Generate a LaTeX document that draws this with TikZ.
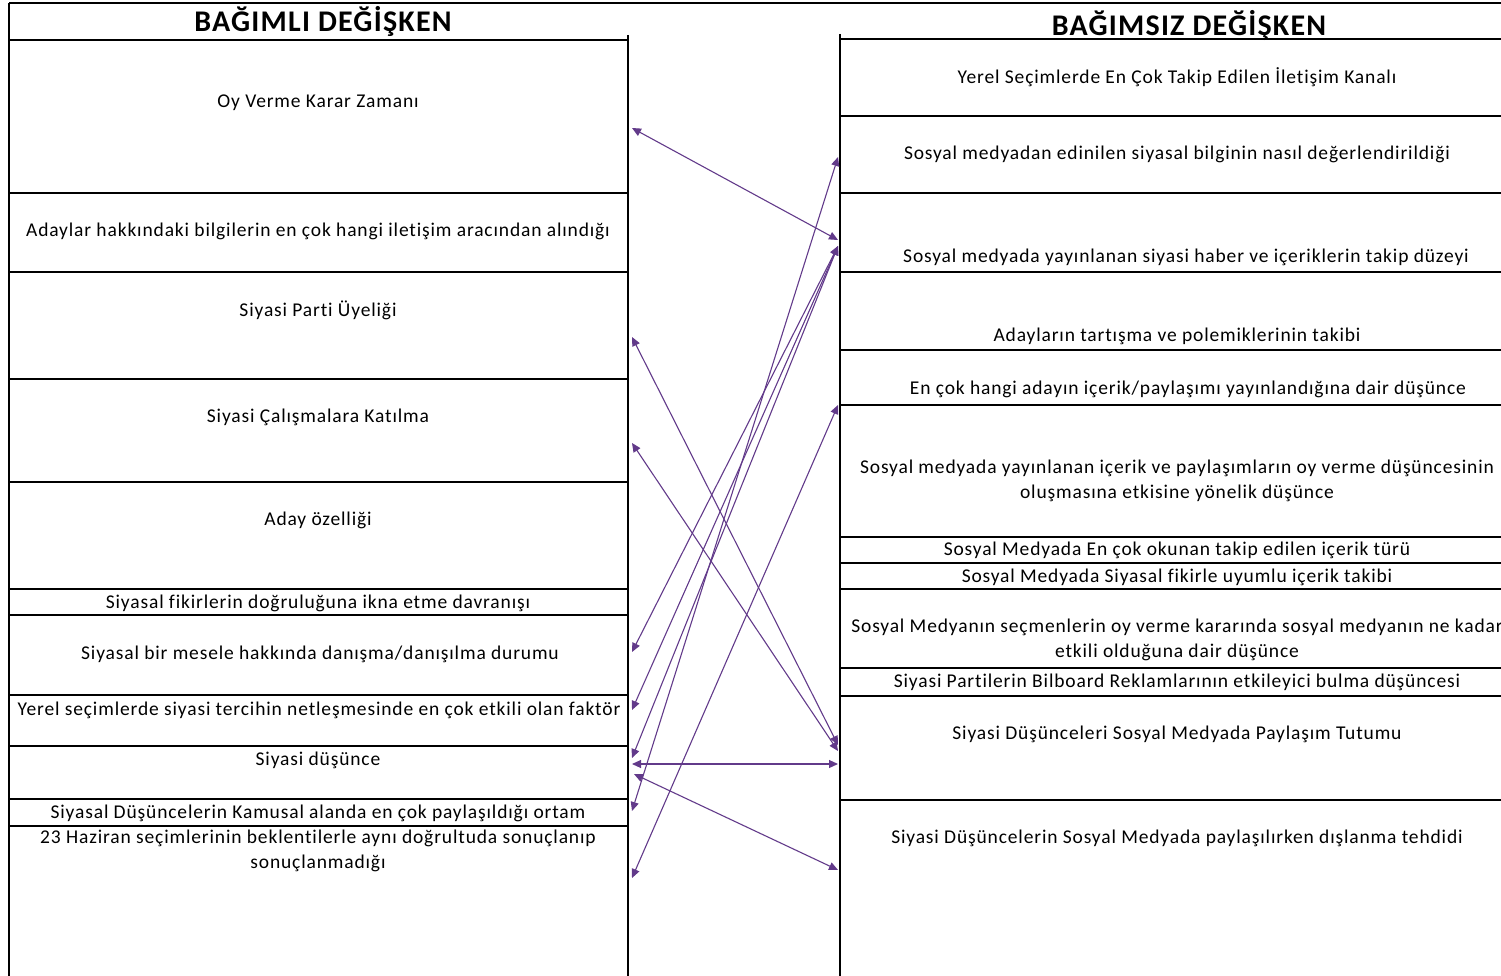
\documentclass[tikz,border=0pt]{standalone}
\usepackage{fontspec}
\setmainfont{Carlito}
\newfontfamily\cellfont[LetterSpace=4.4, Ligatures=NoCommon]{Carlito}
\newfontfamily\headfont[LetterSpace=4.0, Ligatures=NoCommon]{Carlito}
\usetikzlibrary{arrows.meta}
\definecolor{linkpurple}{RGB}{98,58,138}
\tikzset{
    cellline/.style={draw=black, line width=1.3pt},
    celltext/.style={font=\cellfont\fontsize{19.5}{24.5}\selectfont, align=center, inner sep=0pt},
    headtext/.style={font=\headfont\fontsize{30}{32}\selectfont\bfseries, inner sep=0pt},
    link/.style={{Triangle[length=9pt,width=8pt]}-{Triangle[length=9pt,width=8pt]}, line width=1.1pt, draw=linkpurple},
}

\begin{document}
\begin{tikzpicture}[x=1pt, y=-1pt]
    \useasboundingbox (0,0) rectangle (1501,976);

    % Headers
    \draw[cellline, line width=2.2pt] (9,3) -- (1501,3);
    \node[headtext] (bagimli) at (323,21) {BAĞIMLI DEĞİŞKEN};
    \node[headtext] (bagimsiz) at (1189,25) {BAĞIMSIZ DEĞİŞKEN};

    % Left table (dependent variables)
    \draw[cellline] (9,3) -- (9,976);
    \draw[cellline] (628,35) -- (628,976);
    \foreach \y in {40,193,272,379,482,589,615,695,746,799,826}
        \draw[cellline] (9,\y) -- (628,\y);

    % Right table (independent variables)
    \draw[cellline] (840,34) -- (840,976);
    \foreach \y in {39,116,193,272,350,405,537,563,589,668,696,800}
        \draw[cellline] (840,\y) -- (1501,\y);

    % Left cell texts
    \node[celltext] (oyzaman) at (318,103) {Oy Verme Karar Zamanı};
    \node[celltext] (adaybilgi) at (318,231) {Adaylar hakkındaki bilgilerin en çok hangi iletişim aracından alındığı};
    \node[celltext] (partiuye) at (318,310) {Siyasi Parti Üyeliği};
    \node[celltext] (calisma) at (318,417) {Siyasi Çalışmalara Katılma};
    \node[celltext] (adayozel) at (318,520) {Aday özelliği};
    \node[celltext] (ikna) at (318,603) {Siyasal fikirlerin doğruluğuna ikna etme davranışı};
    \node[celltext] (danisma) at (320,654) {Siyasal bir mesele hakkında danışma/danışılma durumu};
    \node[celltext] (faktor) at (319,710) {Yerel seçimlerde siyasi tercihin netleşmesinde en çok etkili olan faktör};
    \node[celltext] (dusunce) at (318,760) {Siyasi düşünce};
    \node[celltext] (ortam) at (318,813) {Siyasal Düşüncelerin Kamusal alanda en çok paylaşıldığı ortam};
    \node[celltext] (haziran) at (318,851) {23 Haziran seçimlerinin beklentilerle aynı doğrultuda sonuçlanıp\\sonuçlanmadığı};

    % Right cell texts
    \node[celltext] (kanal) at (1177,77) {Yerel Seçimlerde En Çok Takip Edilen İletişim Kanalı};
    \node[celltext] (degerlendirme) at (1177,154) {Sosyal medyadan edinilen siyasal bilginin nasıl değerlendirildiği};
    \node[celltext] (takipduzey) at (1186,257) {Sosyal medyada yayınlanan siyasi haber ve içeriklerin takip düzeyi};
    \node[celltext] (polemik) at (1177,336) {Adayların tartışma ve polemiklerinin takibi};
    \node[celltext] (adayicerik) at (1188,389) {En çok hangi adayın içerik/paylaşımı yayınlandığına dair düşünce};
    \node[celltext] (oyetki) at (1177,481) {Sosyal medyada yayınlanan içerik ve paylaşımların oy verme düşüncesinin\\oluşmasına etkisine yönelik düşünce};
    \node[celltext] (icerikturu) at (1177,550) {Sosyal Medyada En çok okunan takip edilen içerik türü};
    \node[celltext] (uyumlu) at (1177,577) {Sosyal Medyada Siyasal fikirle uyumlu içerik takibi};
    \node[celltext] (medyaetki) at (1177,640) {Sosyal Medyanın seçmenlerin oy verme kararında sosyal medyanın ne kadar\\etkili olduğuna dair düşünce};
    \node[celltext] (bilboard) at (1177,682) {Siyasi Partilerin Bilboard Reklamlarının etkileyici bulma düşüncesi};
    \node[celltext] (paylasim) at (1177,734) {Siyasi Düşünceleri Sosyal Medyada Paylaşım Tutumu};
    \node[celltext] (dislanma) at (1177,838) {Siyasi Düşüncelerin Sosyal Medyada paylaşılırken dışlanma tehdidi};

    % Link ends on the left table
    \coordinate (oyL) at (632,128);
    \coordinate (partiL) at (632,337);
    \coordinate (calismaL) at (632,443);
    \coordinate (danismaL) at (632,652);
    \coordinate (faktorL) at (632,710);
    \coordinate (dusunceL) at (632,758);
    \coordinate (dusunceM) at (632,764);
    \coordinate (dusunceN) at (634,774);
    \coordinate (ortamL) at (632,811);
    \coordinate (haziranL) at (632,878);

    % Link ends on the right table
    \coordinate (degerR) at (838,157);
    \coordinate (takipR) at (838,240);
    \coordinate (takipS) at (838,246);
    \coordinate (adayR) at (838,405);
    \coordinate (paylasimR) at (838,745);
    \coordinate (paylasimS) at (838,751);
    \coordinate (paylasimT) at (838,764);
    \coordinate (dislanmaR) at (838,870);

    % Links
    \draw[link] (oyL) -- (takipR);
    \draw[link] (partiL) -- (paylasimR);
    \draw[link] (calismaL) -- (paylasimS);
    \draw[link] (danismaL) -- (takipS);
    \draw[link] (faktorL) -- (takipS);
    \draw[link] (dusunceL) -- (takipS);
    \draw[link] (ortamL) -- (degerR);
    \draw[link] (haziranL) -- (adayR);
    \draw[link] (dusunceM) -- (paylasimT);
    \draw[link] (dusunceN) -- (dislanmaR);
\end{tikzpicture}
\end{document}
